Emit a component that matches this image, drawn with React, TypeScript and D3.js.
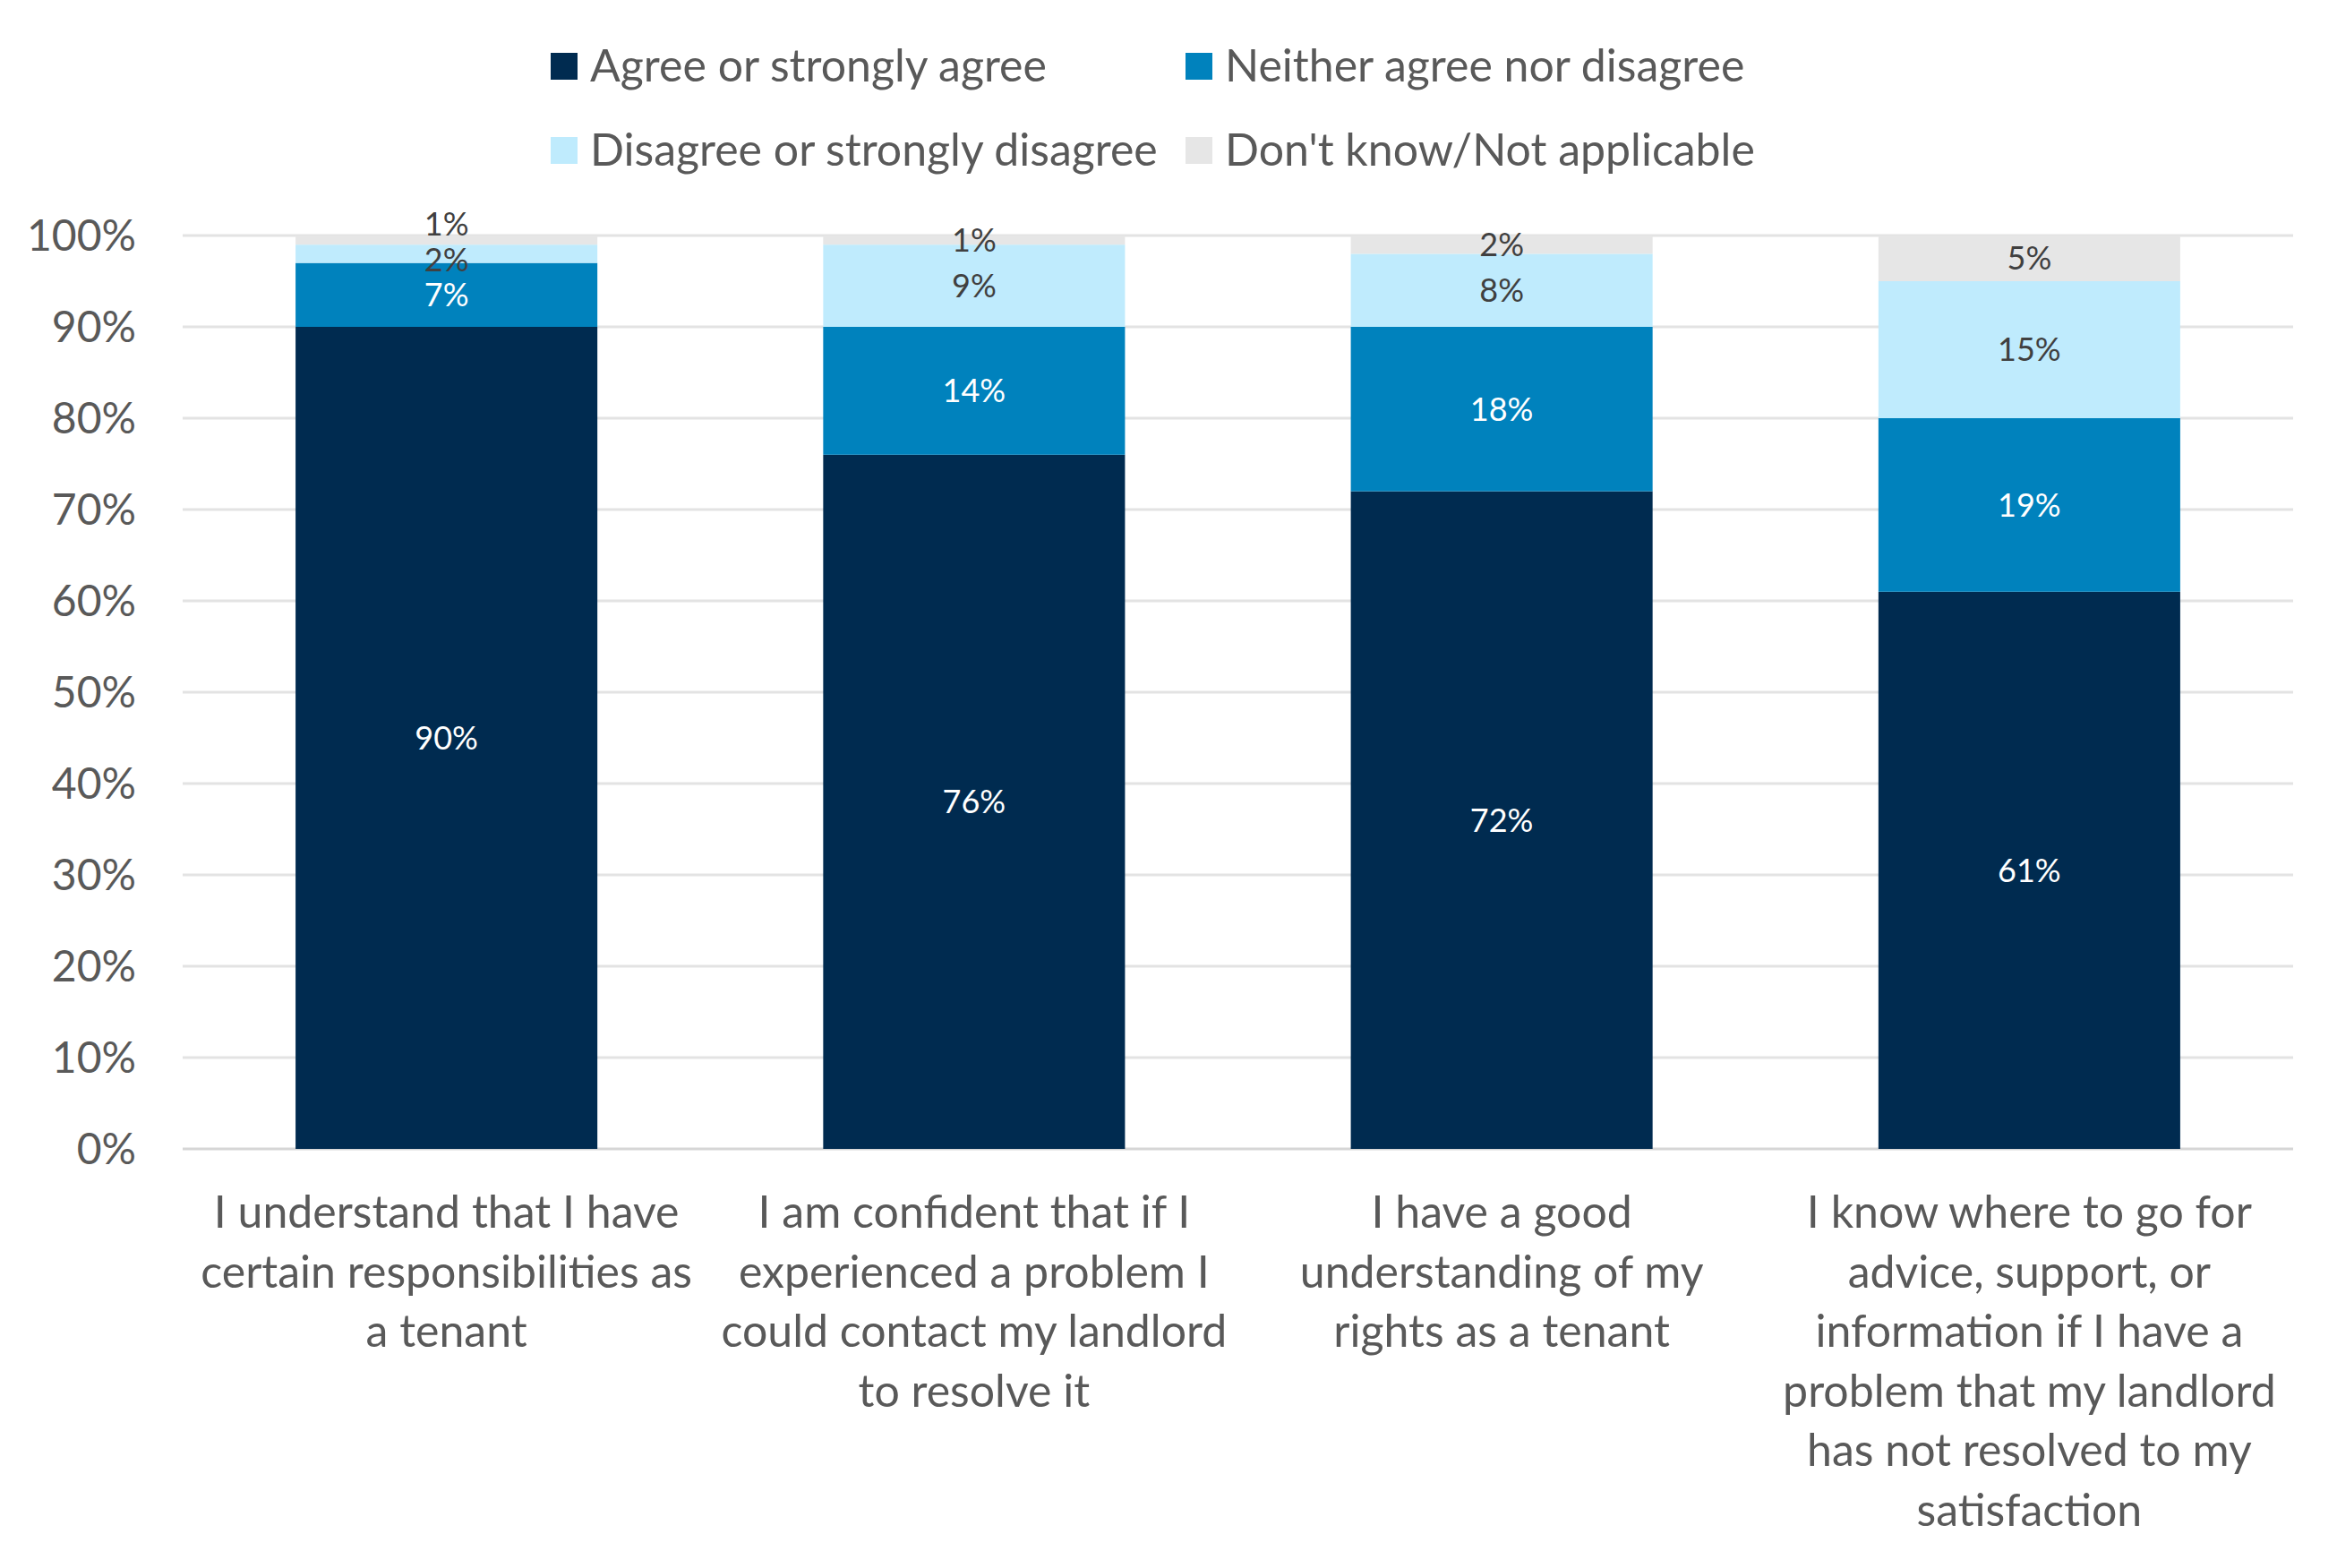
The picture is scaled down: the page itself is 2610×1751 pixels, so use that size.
import React from 'react';
import * as d3 from 'd3';

const CATEGORIES = ['responsibilities', 'contact', 'rights', 'advice'];

const CATEGORY_LINES: string[][] = [
  ['I understand that I have', 'certain responsibilities as', 'a tenant'],
  ['I am confident that if I', 'experienced a problem I', 'could contact my landlord', 'to resolve it'],
  ['I have a good', 'understanding of my', 'rights as a tenant'],
  [
    'I know where to go for',
    'advice, support, or',
    'information if I have a',
    'problem that my landlord',
    'has not resolved to my',
    'satisfaction',
  ],
];

const SERIES = [
  'Agree or strongly agree',
  'Neither agree nor disagree',
  'Disagree or strongly disagree',
  "Don't know/Not applicable",
];

const AGREE = [90, 76, 72, 61];
const NEITHER = [7, 14, 18, 19];
const DISAGREE = [2, 9, 8, 15];
const DONT_KNOW = [1, 1, 2, 5];

const Y_TICKS = [0, 10, 20, 30, 40, 50, 60, 70, 80, 90, 100];

const COLORS = ['#002B50', '#0082BD', '#BFEBFD', '#E6E6E6'];
const LABEL_COLORS = ['#FFFFFF', '#FFFFFF', '#404040', '#404040'];

const W = 2610;
const H = 1751;
const FONT = 'Lato, "Open Sans", sans-serif';
const TEXT = '#595959';

const App: React.FC = () => {
  const values = [AGREE, NEITHER, DISAGREE, DONT_KNOW];
  const rows = CATEGORIES.map((c, i) => {
    const r: Record<string, number | string> = { cat: c };
    SERIES.forEach((s, k) => (r[s] = values[k][i]));
    return r;
  });

  const stacked = d3.stack<Record<string, number | string>>().keys(SERIES)(rows as any);

  const x = d3
    .scaleBand()
    .domain(CATEGORIES)
    .range([204, 2561])
    .paddingInner(0.428)
    .paddingOuter(0.214);

  const y = d3.scaleLinear().domain([0, 100]).range([1283, 263]);

  // label positions; crowded labels are spread apart (mostly upward)
  const GAP = 40;
  const labels: { x: number; y: number; text: string; color: string }[] = [];
  CATEGORIES.forEach((c, i) => {
    stacked.forEach((layer, k) => {
      const [a, b] = layer[i];
      let cy = (y(a) + y(b)) / 2;
      const prev = labels[labels.length - 1];
      if (k > 0 && prev && prev.y - cy < GAP) {
        const short = GAP - (prev.y - cy);
        prev.y += short * 0.25;
        cy -= short * 0.75;
      }
      labels.push({
        x: (x(c) ?? 0) + x.bandwidth() / 2,
        y: cy,
        text: `${b - a}%`,
        color: LABEL_COLORS[k],
      });
    });
  });

  const legendCols = [615, 1324];
  const legendRows = [74, 168];
  const labelTop = y(0) + 88;

  return (
    <svg
      width={W}
      height={H}
      style={{ position: 'absolute', left: 0, top: 0, background: '#fff' }}
      fontFamily={FONT}
    >
      <rect width={W} height={H} fill="#fff" />

      {Y_TICKS.map((t) => (
        <g key={t}>
          <line
            x1={204}
            x2={2561}
            y1={y(t)}
            y2={y(t)}
            stroke={t === 0 ? '#D6D6D6' : '#E3E3E3'}
            strokeWidth={3}
          />
          <text x={152} y={y(t)} dy="0.36em" textAnchor="end" fontSize={48} fill={TEXT}>
            {t}%
          </text>
        </g>
      ))}

      {stacked.map((layer, k) => (
        <g key={layer.key} fill={COLORS[k]}>
          {layer.map((d, i) => (
            <rect
              key={i}
              x={x(CATEGORIES[i])}
              y={y(d[1])}
              width={x.bandwidth()}
              height={y(d[0]) - y(d[1])}
            />
          ))}
        </g>
      ))}

      {labels.map((l, i) => (
        <text
          key={i}
          x={l.x}
          y={l.y}
          dy="0.36em"
          textAnchor="middle"
          fontSize={36}
          fill={l.color}
        >
          {l.text}
        </text>
      ))}

      {CATEGORIES.map((c, i) => {
        const cx = (x(c) ?? 0) + x.bandwidth() / 2;
        return (
          <text key={c} textAnchor="middle" fontSize={50} fill={TEXT}>
            {CATEGORY_LINES[i].map((line, j) => (
              <tspan key={j} x={cx} y={labelTop + j * 66.5}>
                {line}
              </tspan>
            ))}
          </text>
        );
      })}

      {SERIES.map((s, k) => {
        const lx = legendCols[k % 2];
        const ly = legendRows[Math.floor(k / 2)];
        return (
          <g key={s}>
            <rect x={lx} y={ly - 15} width={30} height={30} fill={COLORS[k]} />
            <text x={lx + 44} y={ly} dy="0.33em" fontSize={50} fill={TEXT}>
              {s}
            </text>
          </g>
        );
      })}
    </svg>
  );
};

export default App;
